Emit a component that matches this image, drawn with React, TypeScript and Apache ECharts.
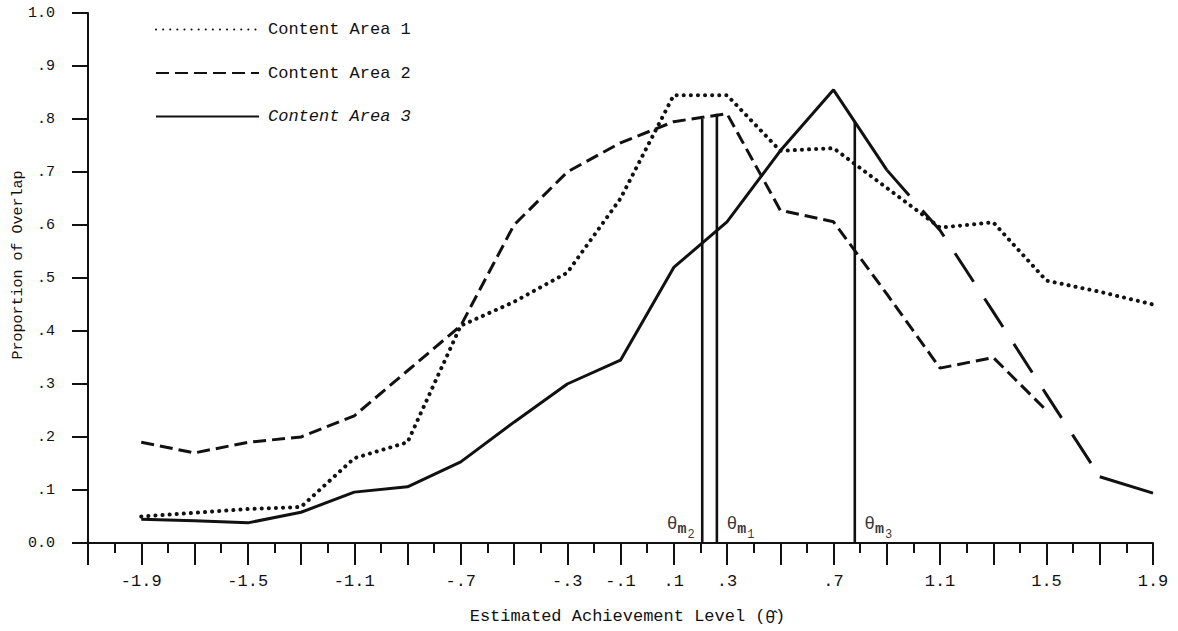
import React, { useEffect, useRef } from "react";
import * as echarts from "echarts";

// Estimated achievement levels (theta-hat) at which overlap was computed
const xLevels = [-1.9, -1.7, -1.5, -1.3, -1.1, -0.9, -0.7, -0.5, -0.3, -0.1, 0.1, 0.3, 0.5, 0.7, 0.9, 1.1, 1.3, 1.5, 1.7, 1.9];
// Proportion of overlap per content area (null = not plotted)
const area1 = [0.05, 0.057, 0.064, 0.068, 0.16, 0.19, 0.41, 0.455, 0.51, 0.65, 0.845, 0.845, 0.74, 0.745, 0.67, 0.595, 0.605, 0.495, 0.474, 0.45];
const area2 = [0.19, 0.17, 0.19, 0.2, 0.24, 0.325, 0.41, 0.6, 0.7, 0.755, 0.795, 0.81, 0.628, 0.606, 0.47, 0.33, 0.35, 0.25, null, null];
const area3 = [0.045, 0.042, 0.038, 0.058, 0.096, 0.106, 0.153, 0.228, 0.3, 0.345, 0.52, 0.606, 0.74, 0.855, 0.704, 0.59, 0.436, 0.28, 0.125, 0.094];
// Range of levels where the Content Area 3 trace is printed broken (long dashes)
const area3BrokenFrom = 0.9;
const area3BrokenTo = 1.7;

// Median markers theta_m
const thetaNames = ["2", "1", "3"];
const thetaValues = [0.207, 0.262, 0.78];
const thetaTops = [0.8, 0.81, 0.795];
const thetaSides = ["left", "right", "right"];

// Axis tick labels
const xTickLabels = ["-1.9", "-1.5", "-1.1", "-.7", "-.3", "-.1", ".1", ".3", ".7", "1.1", "1.5", "1.9"];
const yTickLabels = ["0.0", ".1", ".2", ".3", ".4", ".5", ".6", ".7", ".8", ".9", "1.0"];

const seriesNames = ["Content Area 1", "Content Area 2", "Content Area 3"];

const MONO = "'Liberation Mono', 'DejaVu Sans Mono', monospace";
const INK = "#111";

function fmtX(v: number): string {
  const r = Math.round(v * 10) / 10;
  const s = Math.abs(r) < 1 ? r.toFixed(1).replace("0.", ".") : r.toFixed(1);
  return xTickLabels.indexOf(s) >= 0 ? s : "";
}

function pairs(vals: (number | null)[], keep?: (x: number) => boolean) {
  return xLevels.map((x, i) => {
    const v = vals[i];
    if (v === null || v === undefined) return [x, null];
    if (keep && !keep(x)) return [x, null];
    return [x, v];
  });
}

export default function App() {
  const ref = useRef<HTMLDivElement>(null);
  useEffect(() => {
    if (!ref.current) return;
    const chart = echarts.init(ref.current, null, { renderer: "svg" });

    const solidKeep = (x: number) => x <= area3BrokenFrom + 1e-9 || x >= area3BrokenTo - 1e-9;
    const brokenKeep = (x: number) => x >= area3BrokenFrom - 1e-9 && x <= area3BrokenTo + 1e-9;

    const thetaLineSeries = thetaValues.map((tv, i) => ({
      name: "theta_m" + thetaNames[i],
      type: "line",
      data: [
        [tv, 0],
        [tv, thetaTops[i]],
      ],
      symbol: "none",
      lineStyle: { color: INK, width: 2.6, type: "solid" },
      z: 3,
    }));

    const labelSeries = {
      name: "theta labels",
      type: "scatter",
      symbol: "circle",
      symbolSize: 1,
      itemStyle: { color: "rgba(0,0,0,0)" },
      data: thetaValues.map((tv, i) => ({
        value: [tv, 0],
        label: {
          show: true,
          position: thetaSides[i],
          distance: thetaSides[i] === "left" ? 7 : 9,
          offset: [0, -19],
          formatter: "{t|θ}{m|m}{s|" + thetaNames[i] + "}",
          rich: {
            t: { fontFamily: MONO, fontSize: 18, lineHeight: 18, color: "#000", verticalAlign: "top" },
            m: { fontFamily: MONO, fontSize: 15, lineHeight: 15, fontWeight: "bold", color: "#000", verticalAlign: "top", padding: [7, 0, 0, 0] },
            s: { fontFamily: MONO, fontSize: 12, lineHeight: 12, color: "#000", verticalAlign: "top", padding: [14, 0, 0, 1] },
          },
        },
      })),
      z: 4,
    };

    const option: any = {
      animation: false,
      backgroundColor: "#ffffff",
      grid: { left: 88, right: 25, top: 13, bottom: 88, containLabel: false, outerBoundsMode: "none" },
      legend: {
        data: seriesNames,
        orient: "vertical",
        left: 155,
        top: 21,
        padding: 0,
        itemWidth: 103,
        itemHeight: 16,
        itemGap: 26.5,
        itemStyle: { opacity: 0, borderWidth: 0 },
        textStyle: {
          fontFamily: MONO,
          fontSize: 17,
          color: INK,
          padding: [0, 0, 0, 4],
          rich: { i: { fontFamily: MONO, fontSize: 17, fontStyle: "italic", color: INK } },
        },
        formatter: (name: string) => (name === "Content Area 3" ? "{i|" + name + "}" : name),
        selectedMode: false,
      },
      xAxis: {
        type: "value",
        min: -2.1,
        max: 1.9,
        interval: 0.2,
        name: "Estimated Achievement Level ({h|θ\u0302})",
        nameLocation: "middle",
        nameGap: 65,
        nameMoveOverlap: false,
        nameTextStyle: {
          fontFamily: MONO,
          fontSize: 17,
          color: INK,
          padding: [0, 0, 0, 14],
          rich: { h: { fontFamily: "'Noto Sans', 'DejaVu Sans', sans-serif", fontSize: 16, color: INK } },
        },
        axisLine: { show: true, onZero: false, lineStyle: { color: INK, width: 2 } },
        axisTick: { show: true, length: 22, lineStyle: { color: INK, width: 2 } },
        minorTick: { show: true, splitNumber: 2, length: 10, lineStyle: { color: INK, width: 2 } },
        splitLine: { show: false },
        minorSplitLine: { show: false },
        axisLabel: {
          show: true,
          margin: 30,
          fontFamily: MONO,
          fontSize: 17,
          color: INK,
          formatter: (v: number) => fmtX(v),
          showMinLabel: true,
          showMaxLabel: true,
        },
      },
      yAxis: {
        type: "value",
        min: 0,
        max: 1,
        interval: 0.1,
        name: "Proportion of Overlap",
        nameLocation: "middle",
        nameGap: 62,
        nameMoveOverlap: false,
        nameTextStyle: { fontFamily: MONO, fontSize: 15, color: INK, padding: [0, 0, 0, 26] },
        axisLine: { show: true, onZero: false, lineStyle: { color: INK, width: 2 } },
        axisTick: { show: true, length: 16, lineStyle: { color: INK, width: 2 } },
        splitLine: { show: false },
        axisLabel: {
          margin: 33,
          fontFamily: MONO,
          fontSize: 15,
          color: INK,
          formatter: (v: number) => yTickLabels[Math.round(v * 10)] ?? "",
        },
      },
      series: [
        {
          name: seriesNames[0],
          type: "line",
          data: pairs(area1),
          symbol: "none",
          lineStyle: { color: INK, width: 4, type: [0.1, 7], cap: "round" },
          z: 2,
        },
        {
          name: seriesNames[1],
          type: "line",
          data: pairs(area2),
          symbol: "none",
          lineStyle: { color: INK, width: 3, type: [13, 6] },
          z: 2,
        },
        {
          name: seriesNames[2],
          type: "line",
          data: pairs(area3, solidKeep),
          symbol: "none",
          connectNulls: false,
          lineStyle: { color: INK, width: 3, type: "solid" },
          z: 2,
        },
        {
          name: "Content Area 3 (broken trace)",
          type: "line",
          data: pairs(area3, brokenKeep),
          symbol: "none",
          connectNulls: false,
          lineStyle: { color: INK, width: 3, type: [34, 20] },
          z: 2,
        },
        ...thetaLineSeries,
        labelSeries,
      ],
    };

    chart.setOption(option);
    return () => chart.dispose();
  }, []);

  return (
    <div
      ref={ref}
      style={{ position: "fixed", left: 0, top: 0, width: 1178, height: 631, background: "#fff" }}
    />
  );
}
